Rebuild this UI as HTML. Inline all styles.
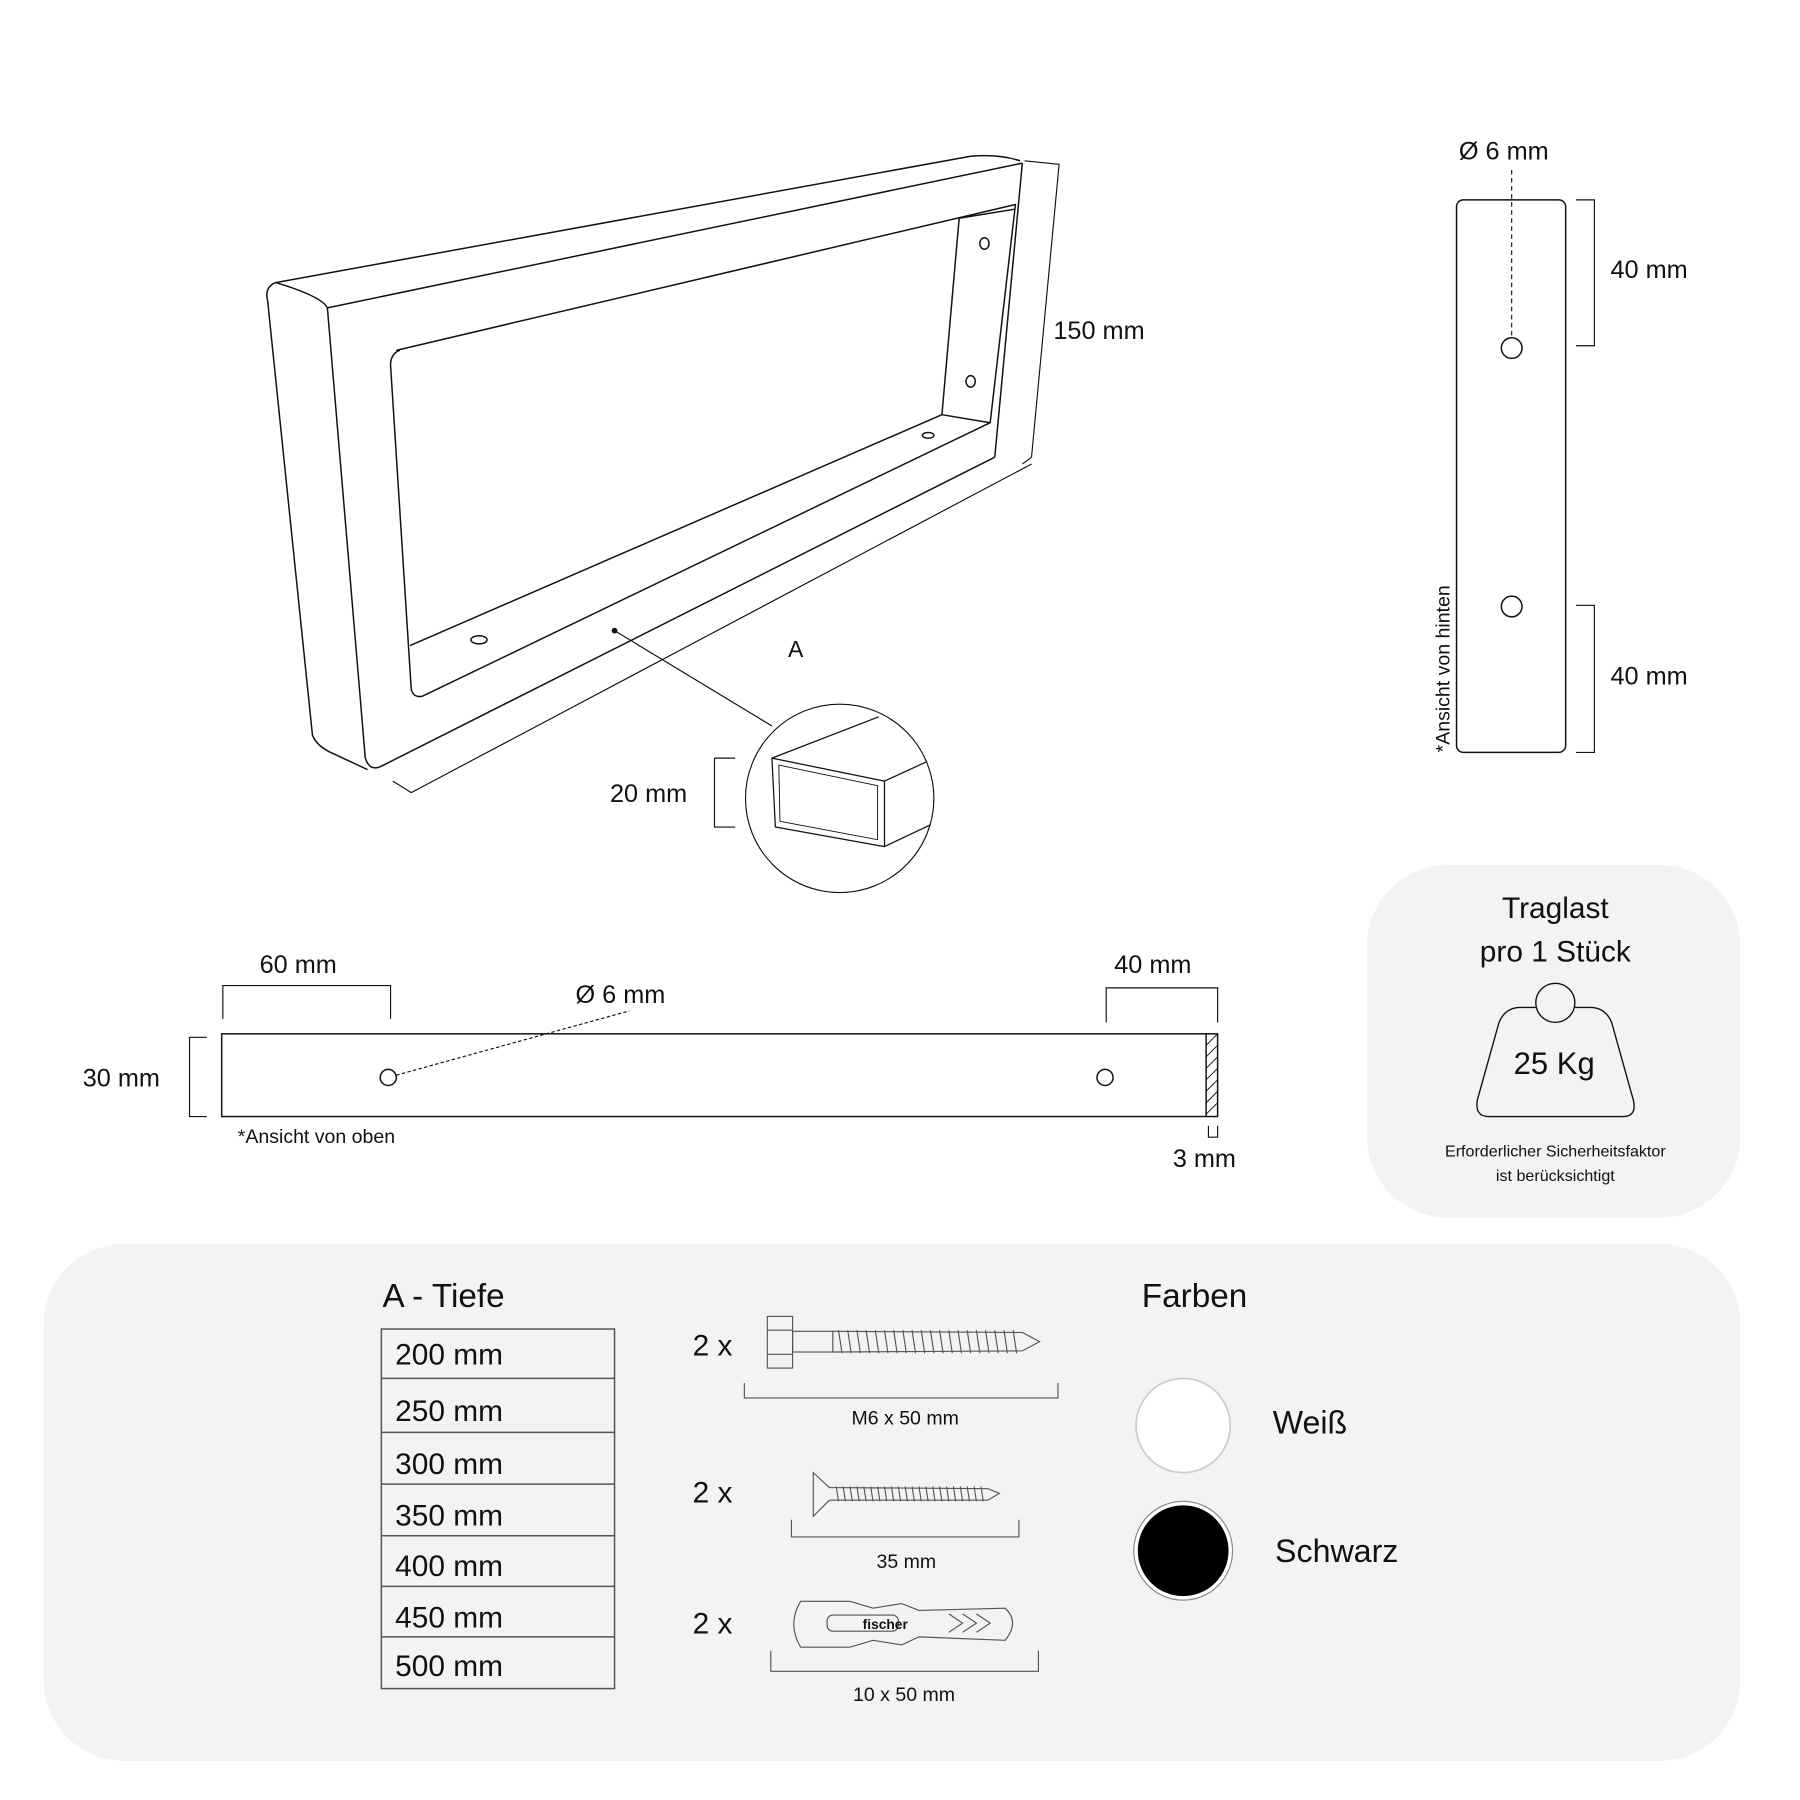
<!DOCTYPE html>
<html><head><meta charset="utf-8"><style>
html,body{margin:0;padding:0;background:#fff;}
svg{display:block;}
text{font-family:"Liberation Sans",sans-serif;fill:#111;}
</style></head><body>
<svg width="1800" height="1800" viewBox="0 0 1567 1567" xmlns="http://www.w3.org/2000/svg">
<rect width="1567" height="1567" fill="#fff"/>
<g fill="none" stroke="#111" stroke-width="1.3" stroke-linejoin="round">
 <path d="M240,246 L845,136 Q870,134 888,140"/>
 <path d="M240,246 Q230,250 233,262 L272,640 Q276,650 290,656 L320,670"/>
 <path d="M240,246 Q280,258 285,268"/>
 <path d="M285,268 L890,142"/>
 <path d="M285,268 L318,660 Q322,672 332,667 L866,398"/>
 <path d="M890,142 L866,398"/>
 <path d="M345,305 L884,178 L862,368 L368,606 Q360,608 358,600 L340,318 Q340,308 348,305"/>
 <path d="M835,190 L820,361 L862,368"/>
 <path d="M820,361 L357,562"/>
 <path d="M835,190 L884,182"/>
 <ellipse cx="857" cy="212" rx="4" ry="5"/>
 <ellipse cx="845" cy="332" rx="4" ry="5"/>
 <ellipse cx="808" cy="379" rx="5" ry="2.5"/>
 <ellipse cx="417" cy="557" rx="7" ry="3.5"/>
 <path d="M892,140 L922,143 L898,398 M890,404 L898,398" stroke-width="1"/>
 <path d="M342,680 L358,690 L898,404" stroke-width="1"/>
 <path d="M535,549 L672,632" stroke-width="1"/>
 <circle cx="731" cy="695" r="82" stroke-width="1"/>
 <path d="M672,660 L765,624 M770,680 L807,663 M770,737 L810,718 M672,660 L770,680 L770,737 L675,720 Z" stroke-width="1.1"/>
 <path d="M678,666 L764,684 L764,731 L679,715 Z" stroke-width="0.8"/>
 <path d="M622,660 L640,660 M622,660 L622,720 L640,720" stroke-width="1"/>
</g>
<circle cx="535" cy="549" r="2.5" fill="#111"/>
<text x="917" y="295" font-size="22">150 mm</text>
<text x="686" y="572" font-size="20">A</text>
<text x="531" y="698" font-size="22">20 mm</text>

<g fill="none" stroke="#111" stroke-width="1.3">
 <rect x="1268" y="174" width="95" height="481" rx="6"/>
 <circle cx="1316" cy="303" r="9"/>
 <circle cx="1316" cy="528" r="9"/>
 <path d="M1316,148 L1316,292" stroke-dasharray="4,3" stroke-width="1"/>
 <path d="M1372,174 L1388,174 L1388,301 L1372,301 M1372,527 L1388,527 L1388,655 L1372,655" stroke-width="1"/>
</g>
<text x="1270" y="139" font-size="22">Ø 6 mm</text>
<text x="1402" y="242" font-size="22">40 mm</text>
<text x="1402" y="596" font-size="22">40 mm</text>
<text transform="translate(1262,655) rotate(-90)" font-size="17">*Ansicht von hinten</text>

<g fill="none" stroke="#111" stroke-width="1.3">
 <rect x="193" y="900" width="867" height="72"/>
 <line x1="1050" y1="900" x2="1050" y2="972"/>
 <circle cx="338" cy="938" r="7"/>
 <circle cx="962" cy="938" r="7"/>
 <path d="M345,936 L548,880" stroke-dasharray="3,2" stroke-width="1"/>
 <path d="M194,887 L194,858 L340,858 L340,887 M963,890 L963,860 L1060,860 L1060,890" stroke-width="1"/>
 <path d="M180,903 L165,903 L165,972 L180,972" stroke-width="1"/>
 <path d="M1052,980 L1052,990 L1060,990 L1060,980" stroke-width="1"/>
</g>
<g stroke="#111" stroke-width="0.8">
 <path d="M1050,910 L1060,900 M1050,920 L1060,910 M1050,930 L1060,920 M1050,940 L1060,930 M1050,950 L1060,940 M1050,960 L1060,950 M1050,970 L1060,960"/>
</g>
<text x="226" y="847" font-size="22">60 mm</text>
<text x="501" y="873" font-size="22">Ø 6 mm</text>
<text x="970" y="847" font-size="22">40 mm</text>
<text x="72" y="946" font-size="22">30 mm</text>
<text x="207" y="995" font-size="17">*Ansicht von oben</text>
<text x="1021" y="1016" font-size="22">3 mm</text>

<rect x="1190" y="753" width="325" height="307" rx="70" fill="#f3f3f3"/>
<text x="1354" y="799" font-size="26" text-anchor="middle">Traglast</text>
<text x="1354" y="837" font-size="26" text-anchor="middle">pro 1 Stück</text>
<g fill="none" stroke="#111" stroke-width="1.2">
 <circle cx="1354" cy="873" r="17"/>
 <path d="M1337,877 L1322,877 Q1310,878 1305,890 L1286,958 Q1284,972 1296,972 L1413,972 Q1425,972 1422,958 L1403,890 Q1398,878 1386,877 L1371,877"/>
</g>
<text x="1353" y="935" font-size="27" text-anchor="middle">25 Kg</text>
<text x="1354" y="1007" font-size="14" text-anchor="middle">Erforderlicher Sicherheitsfaktor</text>
<text x="1354" y="1028" font-size="14" text-anchor="middle">ist berücksichtigt</text>

<rect x="38" y="1083" width="1477" height="450" rx="70" fill="#f3f3f3"/>
<text x="333" y="1138" font-size="29">A - Tiefe</text>
<g fill="none" stroke="#555" stroke-width="1.3">
 <rect x="332" y="1157" width="203" height="313"/>
 <path d="M332,1200 H535 M332,1247 H535 M332,1292 H535 M332,1337 H535 M332,1381 H535 M332,1425 H535"/>
</g>
<g font-size="26">
<text x="344" y="1188">200 mm</text>
<text x="344" y="1237">250 mm</text>
<text x="344" y="1283">300 mm</text>
<text x="344" y="1328">350 mm</text>
<text x="344" y="1372">400 mm</text>
<text x="344" y="1417">450 mm</text>
<text x="344" y="1459">500 mm</text>
</g>
<g font-size="26">
<text x="603" y="1180">2 x</text>
<text x="603" y="1308">2 x</text>
<text x="603" y="1422">2 x</text>
</g>
<g fill="none" stroke="#555" stroke-width="1">
 <rect x="668" y="1146" width="22" height="45"/>
 <path d="M668,1158 H690 M668,1179 H690"/>
 <rect x="690" y="1159" width="35" height="18"/>
 <path d="M725,1159 L890,1160 L905,1168 L890,1176 L725,1177"/>
 <path d="M730,1158 l3,20 M738,1158 l3,20 M746,1158 l3,20 M754,1158 l3,20 M762,1158 l3,20 M770,1158 l3,20 M778,1158 l3,20 M786,1158 l3,20 M794,1158 l3,20 M802,1158 l3,20 M810,1158 l3,20 M818,1158 l3,20 M826,1158 l3,20 M834,1158 l3,20 M842,1158 l3,20 M850,1158 l3,20 M858,1158 l3,20 M866,1158 l3,20 M874,1158 l3,20 M882,1158 l3,20"/>
 <path d="M648,1204 V1217 H921 V1204"/>
 <path d="M708,1282 L722,1295 L860,1296 L870,1300 L860,1306 L722,1306 L708,1320 Z"/>
 <path d="M728,1294 l2,13 M734,1294 l2,13 M740,1294 l2,13 M746,1294 l2,13 M752,1294 l2,13 M758,1294 l2,13 M764,1294 l2,13 M770,1294 l2,13 M776,1294 l2,13 M782,1294 l2,13 M788,1294 l2,13 M794,1294 l2,13 M800,1294 l2,13 M806,1294 l2,13 M812,1294 l2,13 M818,1294 l2,13 M824,1294 l2,13 M830,1294 l2,13 M836,1294 l2,13 M842,1294 l2,13 M848,1294 l2,13 M854,1294 l2,13"/>
 <path d="M689,1323 V1338 H887 V1323"/>
 <path d="M697,1394 L740,1394 L760,1400 L785,1396 L800,1402 L875,1400 Q888,1412 875,1428 L800,1425 L785,1432 L760,1428 L740,1434 L697,1434 Q685,1414 697,1394 Z"/>
 <rect x="720" y="1406" width="62" height="14" rx="5"/>
 <path d="M826,1405 l12,8 l-12,8 M838,1405 l12,8 l-12,8 M850,1405 l12,8 l-12,8"/>
 <path d="M671,1437 V1455 H904 V1437"/>
</g>
<text x="751" y="1418" font-size="12" font-weight="bold" fill="#555">fischer</text>
<text x="788" y="1240" font-size="17" text-anchor="middle">M6 x 50 mm</text>
<text x="789" y="1365" font-size="17" text-anchor="middle">35 mm</text>
<text x="787" y="1481" font-size="17" text-anchor="middle">10 x 50 mm</text>
<text x="994" y="1138" font-size="29">Farben</text>
<circle cx="1030" cy="1241" r="41" fill="#fff" stroke="#ccc" stroke-width="1.5"/>
<circle cx="1030" cy="1350" r="41" fill="#000" stroke="#fff" stroke-width="3"/>
<circle cx="1030" cy="1350" r="43" fill="none" stroke="#888" stroke-width="1"/>
<text x="1108" y="1248" font-size="28">Weiß</text>
<text x="1110" y="1360" font-size="28">Schwarz</text>
</svg>
</body></html>
